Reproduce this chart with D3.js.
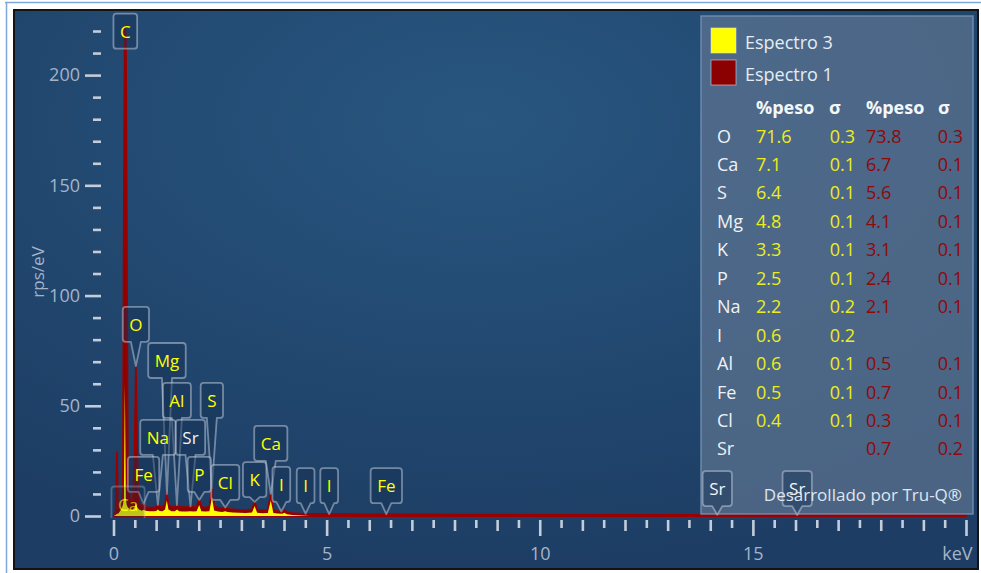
<!DOCTYPE html>
<html>
<head>
<meta charset="utf-8">
<script src="https://cdn.jsdelivr.net/npm/d3@7"></script>
<style>
  html, body { margin: 0; padding: 0; background: #ffffff; }
  svg { display: block; font-family: "Open Sans", "Noto Sans", sans-serif; }
</style>
</head>
<body>
<svg id="chart" width="981" height="573"></svg>
<script>
// ---- Spectrum data: shared energy grid (keV) and count rates (rps/eV) ----
const energy = [0, 0.05, 0.08, 0.11, 0.18, 0.22, 0.245, 0.265, 0.29, 0.31, 0.335, 0.38,
  0.45, 0.495, 0.525, 0.555, 0.6, 0.66, 0.705, 0.75, 0.85, 0.95, 1.0, 1.04, 1.08, 1.15,
  1.21, 1.25, 1.29, 1.36, 1.44, 1.49, 1.54, 1.62, 1.72, 1.8, 1.87, 1.95, 2.01, 2.06,
  2.15, 2.25, 2.31, 2.36, 2.45, 2.55, 2.62, 2.68, 2.8, 2.95, 3.1, 3.25, 3.31, 3.37,
  3.5, 3.62, 3.69, 3.75, 3.85, 3.96, 4.01, 4.07, 4.2, 4.4, 4.6, 5.0, 5.5, 6.0, 6.4,
  7.0, 8.0, 9.0, 10, 11, 12, 13, 14, 15, 16, 17, 18, 19, 20];

const espectro1 = [0, 2, 29, 3, 4, 12, 150, 222, 218, 140, 25, 8,
  6, 30, 68, 30, 6, 4.5, 5.5, 4, 3.8, 3.8, 4.2, 5, 4.2, 4.2,
  5, 10.5, 5, 4.2, 4.2, 5, 4.2, 4, 4, 4.4, 4, 4.2, 7.5, 4.2,
  3.8, 4.2, 13, 4.6, 3.7, 3.4, 3.9, 3.2, 3, 2.8, 2.7, 3, 6.5, 2.9,
  2.6, 2.8, 10, 2.7, 2.2, 2, 2.8, 1.7, 1.3, 1.1, 1, 0.9, 0.8, 0.75, 0.85,
  0.7, 0.65, 0.6, 0.55, 0.55, 0.5, 0.5, 0.5, 0.45, 0.45, 0.45, 0.45, 0.45, 0.45];

const espectro3 = [0, 0.5, 1, 1, 3, 5, 8, 60, 8, 5, 4, 3,
  3, 4, 6, 4, 3, 2.4, 2.8, 2.4, 2.1, 2.1, 2.3, 3, 2.3, 2.2,
  3, 7, 3, 2.2, 2.2, 3, 2.2, 2, 2, 2.2, 2, 2.2, 5, 2.2,
  2, 2.2, 8.5, 2.5, 2, 1.8, 2.2, 1.8, 1.6, 1.5, 1.4, 1.6, 4.5, 1.5,
  1.3, 1.4, 7, 1.4, 1.1, 1, 1.5, 0.8, 0.4, 0.2, 0, 0, 0, 0, 0,
  0, 0, 0, 0, 0, 0, 0, 0, 0, 0, 0, 0, 0, 0];

// ---- Axis ticks ----
const xMajorTicks = [0, 5, 10, 15, 20];
const yMajorTicks = [0, 50, 100, 150, 200];
const yMinorTicks = [10, 20, 30, 40, 60, 70, 80, 90, 110, 120, 130, 140, 160, 170, 180, 190, 210, 220];

// ---- Quantification table ----
const seriesNames = ["Espectro 3", "Espectro 1"];
const elements = ["O", "Ca", "S", "Mg", "K", "P", "Na", "I", "Al", "Fe", "Cl", "Sr"];
const peso3  = ["71.6", "7.1", "6.4", "4.8", "3.3", "2.5", "2.2", "0.6", "0.6", "0.5", "0.4", ""];
const sigma3 = ["0.3", "0.1", "0.1", "0.1", "0.1", "0.1", "0.2", "0.2", "0.1", "0.1", "0.1", ""];
const peso1  = ["73.8", "6.7", "5.6", "4.1", "3.1", "2.4", "2.1", "", "0.5", "0.7", "0.3", "0.7"];
const sigma1 = ["0.3", "0.1", "0.1", "0.1", "0.1", "0.1", "0.1", "", "0.1", "0.1", "0.1", "0.2"];

// ---- Peak markers: element, line energy (keV), marker box base level (rps/eV) ----
const markerElement = ["C", "O", "Mg", "Al", "S", "Na", "Sr", "Fe", "P", "Cl", "K", "Ca", "I", "I", "I", "Fe", "Ca", "Sr", "Sr"];
const markerEnergy  = [0.277, 0.525, 1.254, 1.487, 2.307, 1.041, 1.806, 0.705, 2.013, 2.622, 3.312, 3.690, 3.937, 4.507, 5.06, 6.400, 0.341, 14.165, 16.04];
const markerLevel   = [212, 79, 62.6, 44.5, 44.5, 27.7, 27.7, 10.9, 10.9, 7.3, 8.6, 25, 6.4, 5.8, 5.8, 5.8, -2.5, 4.5, 4.5];

// ---- Colours ----
const YELLOW = "#ffff00";
const RED = "#8b0000";
const TICK = "#c3ccd8";
const TICK_TEXT = "#a4b4c8";
const FONT = "\"Open Sans\", \"Noto Sans\", sans-serif";

const svg = d3.select("#chart");
const defs = svg.append("defs");

const bg = defs.append("radialGradient").attr("id", "panelBg")
  .attr("cx", "48%").attr("cy", "20%").attr("r", "80%");
bg.append("stop").attr("offset", "0%").attr("stop-color", "#28567f");
bg.append("stop").attr("offset", "100%").attr("stop-color", "#1d3d64");

defs.append("clipPath").attr("id", "plotClip")
  .append("rect").attr("x", 14).attr("y", 11).attr("width", 963).attr("height", 507);

// Outer frame
svg.append("line").attr("x1", 5).attr("x2", 981).attr("y1", 2.5).attr("y2", 2.5)
  .attr("stroke", "#7fa6dc").attr("stroke-width", 1.5);
svg.append("line").attr("x1", 6.5).attr("x2", 6.5).attr("y1", 2).attr("y2", 573)
  .attr("stroke", "#7fa6dc").attr("stroke-width", 1.5);

// Dark chart panel
svg.append("rect").attr("x", 14).attr("y", 10).attr("width", 964).attr("height", 559)
  .attr("fill", "url(#panelBg)").attr("stroke", "#141414").attr("stroke-width", 2);

// Scales
const x = d3.scaleLinear().domain([0, 20]).range([113.5, 966]);
const y = d3.scaleLinear().domain([0, 225]).range([516, 20]);

// ---- Y axis: long major ticks with labels, short minor ticks ----
const yMajor = svg.append("g").attr("transform", "translate(101,0)")
  .call(d3.axisLeft(y).tickValues(yMajorTicks).tickSize(16).tickPadding(5).tickFormat(d3.format("d")));
const yMinor = svg.append("g").attr("transform", "translate(101,0)")
  .call(d3.axisLeft(y).tickValues(yMinorTicks).tickSize(8).tickFormat(""));

// ---- X axis: major ticks, integer minor ticks, half-keV minor ticks ----
const xIntMinor = d3.range(0, 21).filter(v => v % 5 !== 0);
const xHalfMinor = d3.range(0, 20).map(v => v + 0.5);
const xMajor = svg.append("g").attr("transform", "translate(0,520)")
  .call(d3.axisBottom(x).tickValues(xMajorTicks).tickSize(16).tickPadding(11)
    .tickFormat(d => d === 20 ? "keV" : d));
const xMinA = svg.append("g").attr("transform", "translate(0,520)")
  .call(d3.axisBottom(x).tickValues(xIntMinor).tickSize(11).tickFormat(""));
const xMinB = svg.append("g").attr("transform", "translate(0,520)")
  .call(d3.axisBottom(x).tickValues(xHalfMinor).tickSize(8).tickFormat(""));

[yMajor, yMinor, xMajor, xMinA, xMinB].forEach(g => {
  g.select(".domain").remove();
  g.selectAll(".tick line").attr("stroke", TICK).attr("stroke-width", 2.6).attr("stroke-linecap", "butt");
  g.selectAll(".tick text").attr("fill", TICK_TEXT).attr("font-size", 18).attr("font-family", FONT);
});
xMajor.selectAll(".tick text").filter(d => d === 20)
  .attr("text-anchor", "end").attr("dx", 6);

// Y axis title
svg.append("text").attr("transform", "translate(44,272) rotate(-90)")
  .attr("text-anchor", "middle").attr("fill", TICK_TEXT).attr("font-size", 17)
  .text("rps/eV");

// ---- Spectra ----
const idx = d3.range(energy.length);
const plot = svg.append("g").attr("clip-path", "url(#plotClip)");
const areaFor = vals => d3.area()
  .x(i => x(energy[i])).y0(y(0)).y1(i => y(vals[i]));

plot.append("path").datum(idx).attr("d", areaFor(espectro1))
  .attr("fill", RED).attr("stroke", "#9b0000").attr("stroke-width", 1.8).attr("stroke-linejoin", "round");
plot.append("path").datum(idx).attr("d", areaFor(espectro3))
  .attr("fill", YELLOW).attr("stroke", "none");

// ---- Legend / results panel ----
svg.append("rect").attr("x", 701).attr("y", 16).attr("width", 272).attr("height", 498)
  .attr("fill", "rgb(91,114,143)").attr("fill-opacity", 0.75)
  .attr("stroke", "rgba(120,150,185,0.8)").attr("stroke-width", 1.5);

// ---- Peak markers ----
const bis = d3.bisector(d => d).left;
function rateAt(vals, e) {
  const i = Math.min(Math.max(bis(energy, e), 1), energy.length - 1);
  const t = (e - energy[i - 1]) / (energy[i] - energy[i - 1]);
  return vals[i - 1] + t * (vals[i] - vals[i - 1]);
}
const markers = svg.append("g").attr("clip-path", "url(#plotClip)");
const BOX_H = 35, R = 3, HALF_BASE = 5;
markerElement.forEach((el, k) => {
  const e = markerEnergy[k];
  const tipX = x(e);
  const tipY = y(Math.max(rateAt(espectro1, e), rateAt(espectro3, e)));
  let bottom = y(markerLevel[k]);
  let top = bottom - BOX_H;
  if (top < 12) { top = 12; bottom = top + BOX_H; }
  const row = elements.indexOf(el);
  const colour = (row >= 0 && peso3[row] === "") ? "#f2f4f6" : YELLOW;

  const g = markers.append("g").attr("opacity", markerLevel[k] < 0 ? 0.6 : 1);
  const txt = g.append("text").attr("x", tipX).attr("y", top + 24)
    .attr("text-anchor", "middle").attr("font-size", 17).attr("fill", colour).text(el);
  const w = txt.node().getComputedTextLength() + 13;
  const left = tipX - w / 2, right = tipX + w / 2;
  const p = d3.path();
  p.moveTo(left + R, top);
  p.lineTo(right - R, top);
  p.quadraticCurveTo(right, top, right, top + R);
  p.lineTo(right, bottom - R);
  p.quadraticCurveTo(right, bottom, right - R, bottom);
  if (tipY > bottom + 2) {
    p.lineTo(tipX + HALF_BASE, bottom);
    p.lineTo(tipX, tipY);
    p.lineTo(tipX - HALF_BASE, bottom);
  }
  p.lineTo(left + R, bottom);
  p.quadraticCurveTo(left, bottom, left, bottom - R);
  p.lineTo(left, top + R);
  p.quadraticCurveTo(left, top, left + R, top);
  p.closePath();
  g.insert("path", "text").attr("d", p.toString())
    .attr("fill", "rgb(22,48,84)").attr("fill-opacity", 0.45)
    .attr("stroke", "rgba(200,210,224,0.5)").attr("stroke-width", 1.8)
    .attr("stroke-linejoin", "round");
});

// ---- Legend entries ----
const legend = svg.append("g");
[YELLOW, RED].forEach((c, i) => {
  legend.append("rect").attr("x", 711).attr("y", 28 + i * 32).attr("width", 25).attr("height", 25)
    .attr("fill", c).attr("stroke", "rgba(225,230,238,0.55)").attr("stroke-width", 1);
  legend.append("text").attr("x", 745).attr("y", 48.5 + i * 32)
    .attr("font-size", 18).attr("fill", "#e6ecf3").text(seriesNames[i]);
});

// Table header
const colEl = 717, colP3 = 756, colS3 = 855, colP1 = 866, colS1 = 963;
const header = [["%peso", colP3], ["σ", 829], ["%peso", colP1], ["σ", 938]];
header.forEach(([t, hx]) => {
  legend.append("text").attr("x", hx).attr("y", 114)
    .attr("font-size", 18).attr("font-weight", "bold").attr("fill", "#f4f7fa").text(t);
});

// Table rows
const ROW0 = 142.5, ROW_H = 28.45;
elements.forEach((el, i) => {
  const by = ROW0 + i * ROW_H;
  legend.append("text").attr("x", colEl).attr("y", by).attr("font-size", 18).attr("fill", "#eef2f6").text(el);
  legend.append("text").attr("x", colP3).attr("y", by).attr("font-size", 18).attr("fill", "#eded1c").text(peso3[i]);
  legend.append("text").attr("x", colS3).attr("y", by).attr("text-anchor", "end").attr("font-size", 18).attr("fill", "#eded1c").text(sigma3[i]);
  legend.append("text").attr("x", colP1).attr("y", by).attr("font-size", 18).attr("fill", "#8e0a0a").text(peso1[i]);
  legend.append("text").attr("x", colS1).attr("y", by).attr("text-anchor", "end").attr("font-size", 18).attr("fill", "#8e0a0a").text(sigma1[i]);
});

legend.append("text").attr("x", 962).attr("y", 501).attr("text-anchor", "end")
  .attr("font-size", 17).attr("fill", "#dfe6ee").text("Desarrollado por Tru-Q®");
</script>
</body>
</html>
